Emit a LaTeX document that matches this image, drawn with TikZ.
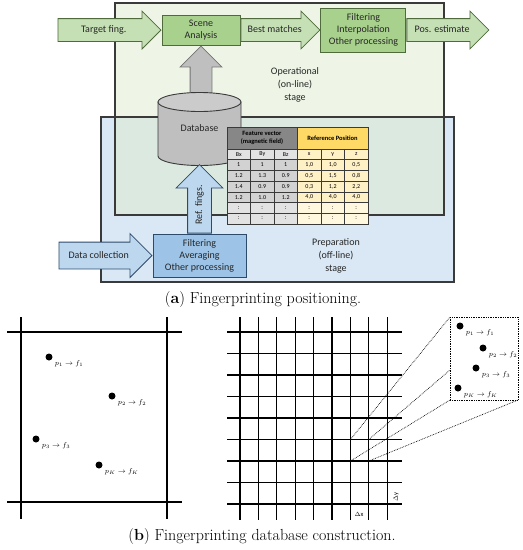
\documentclass[tikz,border=0pt]{standalone}
\usepackage{amsmath}
\usepackage{fontspec}
\newfontfamily\calfont{Carlito}
\usetikzlibrary{shapes.arrows, positioning, calc}

\definecolor{opgreen}{HTML}{DDEBCD}
\definecolor{prepblue}{HTML}{DAE8F5}
\definecolor{edgegray}{HTML}{3A3A3A}
\definecolor{arrowgreen}{HTML}{C5E0B4}
\definecolor{blockgreen}{HTML}{A9D18E}
\definecolor{greenedge}{HTML}{4F6B3C}
\definecolor{arrowblue}{HTML}{BDD7EE}
\definecolor{blockblue}{HTML}{9DC3E6}
\definecolor{blueedge}{HTML}{2E4A6B}
\definecolor{dbbody}{HTML}{BFBFBF}
\definecolor{dbtop}{HTML}{CBCBCB}
\definecolor{fvgray}{HTML}{878787}
\definecolor{rpyellow}{HTML}{FFD966}
\definecolor{cellgray}{HTML}{D2D2D2}
\definecolor{cellyellow}{HTML}{FFF1C6}
\definecolor{fadegray}{HTML}{E2E2E2}
\definecolor{fadeyellow}{HTML}{FFF7DE}

\tikzset{
    stage/.style={draw=edgegray, line width=1.1pt},
    txt/.style={font=\calfont\fontsize{10}{13}\selectfont, text=black!85, align=center},
    blockarrow/.style={single arrow, single arrow tip angle=90, line width=0.8pt,
        txt, text height=7pt, text depth=2pt, inner xsep=2pt},
    garrow/.style={blockarrow, draw=greenedge, fill=arrowgreen, inner ysep=6.5pt,
        single arrow head extend=7.5pt},
    barrow/.style={blockarrow, draw=blueedge, fill=arrowblue},
    gblock/.style={draw=greenedge, fill=blockgreen, line width=1pt, txt, inner sep=0pt},
    bblock/.style={draw=blueedge, fill=blockblue, line width=1pt, txt, inner sep=0pt},
    tabline/.style={draw=edgegray, line width=0.5pt},
    tabtxt/.style={font=\calfont\fontsize{6}{7}\selectfont, inner sep=0pt},
    tabhead/.style={tabtxt, font=\calfont\bfseries\fontsize{6.5}{8}\selectfont, align=center},
    frame/.style={line width=1.1pt},
    pt/.style={circle, fill, inner sep=0pt, minimum size=7pt},
    ptlabel/.style={font=\fontsize{7}{8}\selectfont, inner sep=0pt, anchor=west},
    zoomline/.style={densely dotted, line width=0.7pt},
    caption/.style={font=\fontsize{16}{18}\selectfont},
}

\begin{document}
\begin{tikzpicture}[x=1pt, y=-1pt]
    \useasboundingbox (0,0) rectangle (523,550);

    % stage backgrounds
    \fill[prepblue] (101,117) rectangle (454,282);
    \fill[opgreen, fill opacity=0.5] (115,3) rectangle (444,215);
    \draw[stage] (101,117) rectangle (454,282);
    \draw[stage] (115,3) rectangle (444,215);
    \node[txt] (optxt) at (295,85) {Operational\\(on-line)\\stage};
    \node[txt] (preptxt) at (336,256) {Preparation\\(off-line)\\stage};

    % operational chain
    \node[gblock, minimum width=78pt, minimum height=30pt] (scene) at (201,30) {Scene\\[-1pt]Analysis};
    \node[garrow, anchor=tip, minimum height=103pt] (target) at (scene.west) {Target fing.};
    \node[garrow, anchor=tail, minimum height=79pt] (best) at (scene.east) {Best matches};
    \node[gblock, anchor=west, minimum width=85pt, minimum height=44pt] (filt) at (best.tip) {Filtering\\[-1pt]Interpolation\\[-1pt]Other processing};
    \node[garrow, anchor=tail, minimum height=82pt] (pos) at (filt.east) {Pos. estimate};

    % database
    \node[blockarrow, draw=black!55, fill=dbbody, rotate=90, anchor=tip, text height=0pt, text depth=0pt,
        inner ysep=10.5pt, single arrow head extend=10pt, minimum height=57pt] (dbup) at (scene.south) {};
    \coordinate (dbc) at (199.5,102);
    \draw[edgegray, line width=0.9pt, fill=dbbody] (158,102) -- (158,156)
        arc[start angle=180, end angle=0, x radius=41.5, y radius=9.5] -- (241,102) -- cycle;
    \draw[edgegray, line width=0.9pt, fill=dbtop] (dbc) ellipse[x radius=41.5, y radius=9.5];
    \node[txt] (db) at (199.5,128) {Database};
    \coordinate (dbbot) at (199.5,165.5);

    % preparation chain
    \node[bblock, minimum width=93pt, minimum height=43pt] (proc) at (199.5,255.5) {Filtering\\[-1pt]Averaging\\[-1pt]Other processing};
    \node[barrow, anchor=tip, inner ysep=8.5pt, single arrow head extend=8.5pt, minimum height=93pt] (collect) at (proc.west) {Data collection};
    \node[barrow, anchor=tail, rotate=90, inner ysep=7pt, single arrow head extend=11.5pt, minimum height=68.5pt] (ref) at (proc.north) {Ref. fings.};

    % table
    \draw[tabline, fill=fvgray] (227,127) rectangle (297,149);
    \draw[tabline, fill=rpyellow] (297,127) rectangle (368,149);
    \node[tabhead] (fv) at (262,138) {Feature vector\\(magnetic field)};
    \node[tabhead] (rp) at (332.5,138) {Reference Position};
    \foreach \i in {0,...,6}{
        \ifnum\i=0 \def\cg{fadegray}\def\cy{cellyellow}\else
        \ifnum\i>4 \def\cg{fadegray}\def\cy{fadeyellow}\else
        \def\cg{cellgray}\def\cy{cellyellow}\fi\fi
        \foreach \j in {0,1,2}
            \draw[tabline, fill=\cg] ({227+23.5*\j},{149+10.7*\i}) rectangle ++(23.5,10.7);
        \foreach \j in {3,4,5}
            \draw[tabline, fill=\cy] ({227+23.5*\j},{149+10.7*\i}) rectangle ++(23.5,10.7);
    }
    \foreach \a/\b/\c/\d/\e/\f [count=\i from 0] in {Bx/By/Bz/x/y/z, 1/1/1/{1,0}/{1,0}/{0,5},
            1.2/1.3/0.9/{0,5}/{1,5}/{0,8}, 1.4/0.9/0.9/{0,3}/{1,2}/{2,2},
            1.2/1.0/1.2/{4,0}/{4,0}/{4,0}, :/:/:/:/:/:, :/:/:/:/:/:}{
        \foreach \v [count=\j from 0] in {\a,\b,\c,\d,\e,\f}
            \node[tabtxt] (t-\i-\j) at ({238.75+23.5*\j},{154.35+10.7*\i}) {\v};
    }

    % captions
    \node[caption] (capa) at (263,300) {(\textbf{a}) Fingerprinting positioning.};
    \node[caption] (capb) at (262,537) {(\textbf{b}) Fingerprinting database construction.};

    % area with reference points
    \draw[frame] (7,332) -- (182,332);
    \draw[frame] (7,502) -- (182,502);
    \draw[frame] (21,317) -- (21,519);
    \draw[frame] (167,317) -- (167,519);
    \foreach \n/\x/\y/\k in {p1/49/357/1, p2/112/396/2, p3/36/439/3, pk/99/465/K}{
        \node[pt] (\n) at (\x,\y) {};
        \node[ptlabel] (\n-lbl) at ([shift={(2,7)}]\n.east) {$p_{\k} \rightarrow f_{\k}$};
    }

    % grid
    \foreach \i in {0,...,8}{
        \draw[frame] ({240+18.4*\i},317) -- ({240+18.4*\i},520);
        \draw[frame] (227,{332+21.5*\i}) -- (402,{332+21.5*\i});
    }
    \node[tabtxt, font=\calfont\fontsize{6.5}{7}\selectfont] (dx) at (359,514) {$\Delta$x};
    \node[tabtxt, font=\calfont\fontsize{6.5}{7}\selectfont, rotate=90] (dy) at (396,497) {$\Delta$y};

    % zoomed cell
    \coordinate (c-tl) at (350.4,439.5);
    \coordinate (c-tr) at (368.8,439.5);
    \coordinate (c-bl) at (350.4,461);
    \coordinate (c-br) at (368.8,461);
    \draw[zoomline] (450,317) rectangle (518,400);
    \draw[zoomline] (c-tl) -- (450,317);
    \draw[zoomline] (c-tr) -- (450,370);
    \draw[zoomline] (c-bl) -- (450,400);
    \draw[zoomline] (c-br) -- (518,400);
    \foreach \n/\x/\y/\k in {z1/460/326/1, z2/483/348/2, z3/476/368/3, zk/458/388/K}{
        \node[pt] (\n) at (\x,\y) {};
        \node[ptlabel] (\n-lbl) at ([shift={(2,7)}]\n.east) {$p_{\k} \rightarrow f_{\k}$};
    }
\end{tikzpicture}
\end{document}
